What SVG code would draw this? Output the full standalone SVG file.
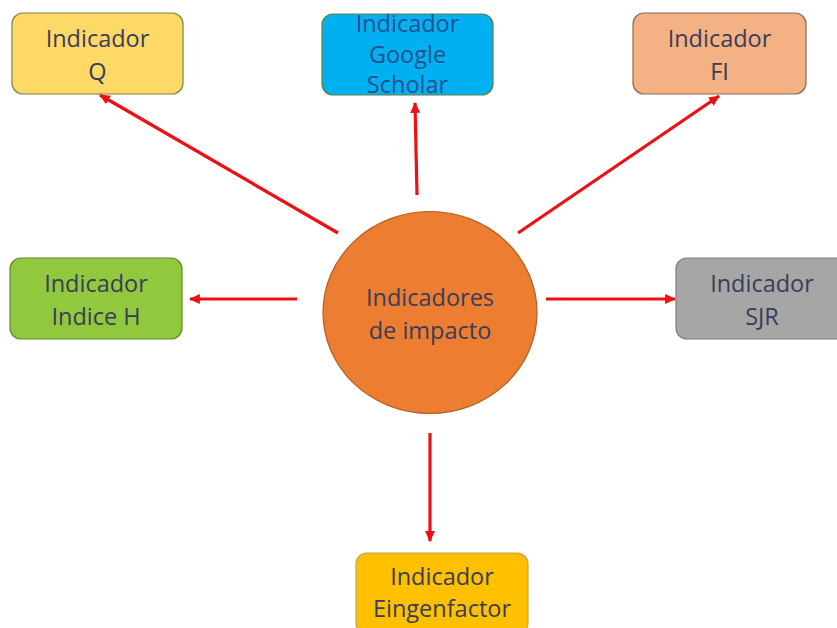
<svg xmlns="http://www.w3.org/2000/svg" width="837" height="628" viewBox="0 0 837 628">
  <defs>
    <marker id="arrow" viewBox="0 0 10 10" refX="9" refY="5" markerWidth="11" markerHeight="11" markerUnits="userSpaceOnUse" orient="auto">
      <path d="M0,0.5 L10,5 L0,9.5 Z" fill="#EE0F14"/>
    </marker>
    <style>
      .box { stroke-width: 1.2; }
      .lbl { font-family: "Open Sans", "Liberation Sans", sans-serif; font-size: 23.5px; fill: #383E5A; text-anchor: middle; }
      .conn { stroke: #EE0F14; stroke-width: 3.2; fill: none; marker-end: url(#arrow); }
    </style>
  </defs>
  <rect width="837" height="628" fill="#FFFFFF"/>

  <!-- connectors from the central circle -->
  <g id="connectors">
    <line class="conn" x1="338" y1="233" x2="100" y2="95"/>
    <line class="conn" x1="417" y1="195" x2="415" y2="103"/>
    <line class="conn" x1="518" y1="233" x2="719" y2="96"/>
    <line class="conn" x1="297" y1="299" x2="190" y2="299"/>
    <line class="conn" x1="546" y1="299" x2="675" y2="299"/>
    <line class="conn" x1="430" y1="433" x2="430" y2="541"/>
  </g>

  <g id="center">
    <ellipse cx="430" cy="312.5" rx="107" ry="101" fill="#ED7D31" stroke="#B35D22" stroke-width="1.2"/>
    <text class="lbl" x="430" y="306">Indicadores</text>
    <text class="lbl" x="430" y="339">de impacto</text>
  </g>

  <g id="node-q">
    <rect class="box" x="12" y="13" width="171" height="81" rx="11" fill="#FFD966" stroke="#7F8043"/>
    <text class="lbl" x="97.5" y="47">Indicador</text>
    <text class="lbl" x="97.5" y="80">Q</text>
  </g>

  <g id="node-google-scholar">
    <rect class="box" x="322" y="14" width="171" height="81" rx="11" fill="#00B0F0" stroke="#5E7F3E"/>
    <text class="lbl" x="407.5" y="32" style="fill:#23508F">Indicador</text>
    <text class="lbl" x="407.5" y="63" style="fill:#23508F">Google</text>
    <text class="lbl" x="407.5" y="93" style="fill:#23508F">Scholar</text>
  </g>

  <g id="node-fi">
    <rect class="box" x="633" y="13" width="173" height="81" rx="11" fill="#F4B183" stroke="#8A6A55"/>
    <text class="lbl" x="719.5" y="47">Indicador</text>
    <text class="lbl" x="719.5" y="80">FI</text>
  </g>

  <g id="node-indice-h">
    <rect class="box" x="10" y="258" width="172" height="81" rx="11" fill="#92C83E" stroke="#5F8A2A"/>
    <text class="lbl" x="96" y="292">Indicador</text>
    <text class="lbl" x="96" y="325">Indice H</text>
  </g>

  <g id="node-sjr">
    <rect class="box" x="676" y="258" width="172" height="81" rx="11" fill="#A6A6A6" stroke="#7F7F7F"/>
    <text class="lbl" x="762" y="292">Indicador</text>
    <text class="lbl" x="762" y="325">SJR</text>
  </g>

  <g id="node-eingenfactor">
    <rect class="box" x="356" y="553" width="172" height="81" rx="11" fill="#FFC000" stroke="#C9A24A"/>
    <text class="lbl" x="442" y="585">Indicador</text>
    <text class="lbl" x="442" y="617">Eingenfactor</text>
  </g>
</svg>
